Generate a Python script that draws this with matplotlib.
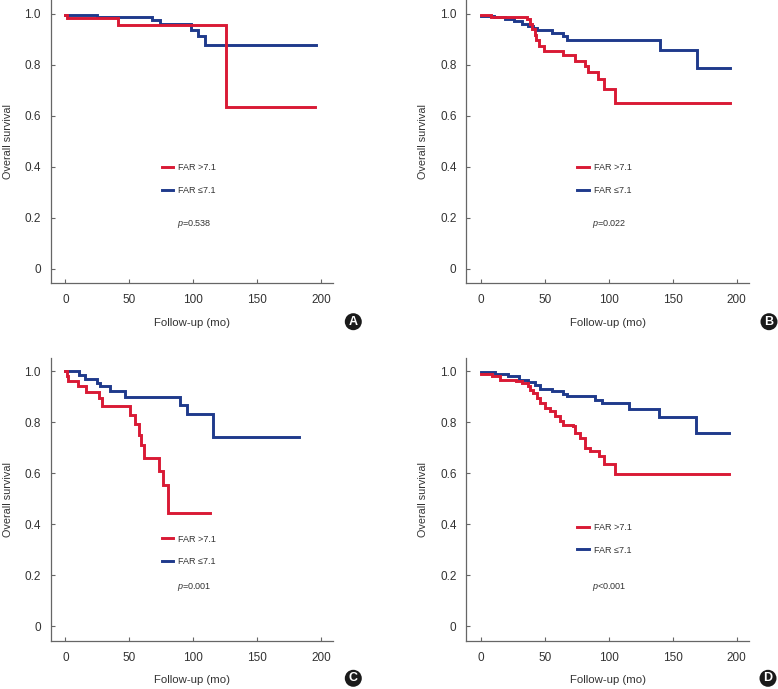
import numpy as np
import matplotlib
matplotlib.use("Agg")
import matplotlib.pyplot as plt
from matplotlib.lines import Line2D

plt.rcParams['font.family'] = ['Liberation Sans', 'DejaVu Sans']
plt.rcParams['mathtext.fontset'] = 'custom'
plt.rcParams['mathtext.it'] = 'Liberation Sans:italic'
plt.rcParams['mathtext.rm'] = 'Liberation Sans'

# Panel A
a_hi_t = [0, 1, 41, 126, 195]
a_hi_s = [0.993, 0.983, 0.957, 0.634, 0.634]
a_lo_t = [0, 25, 68, 74, 98, 104, 109, 196]
a_lo_s = [0.994, 0.987, 0.974, 0.961, 0.937, 0.914, 0.877, 0.877]

# Panel B
b_hi_t = [0, 8, 36, 38, 40, 42, 43, 45, 49, 64.5, 73.5, 81, 84, 91.5, 96, 105, 195]
b_hi_s = [0.993, 0.986, 0.977, 0.96, 0.94, 0.915, 0.898, 0.872, 0.855, 0.836,
          0.814, 0.794, 0.771, 0.742, 0.703, 0.651, 0.651]
b_lo_t = [0, 10, 19, 25.5, 32, 37, 41, 44, 55.5, 64.5, 67, 140, 169, 195]
b_lo_s = [0.989, 0.985, 0.979, 0.970, 0.961, 0.953, 0.944, 0.935, 0.925, 0.911,
          0.898, 0.857, 0.785, 0.785]

# Panel C
c_hi_t = [0, 1, 2, 10, 16, 26, 29, 50.5, 54.5, 57.5, 59.5, 61.5, 73, 76, 80.5, 113.5]
c_hi_s = [1.0, 0.98, 0.961, 0.941, 0.919, 0.896, 0.863, 0.830, 0.794, 0.752,
          0.713, 0.661, 0.608, 0.556, 0.445, 0.445]
c_lo_t = [0, 10.7, 15, 25, 27, 34.7, 46.5, 89.5, 95.2, 115.5, 183]
c_lo_s = [1.0, 0.987, 0.971, 0.954, 0.941, 0.924, 0.90, 0.869, 0.833, 0.741, 0.741]

# Panel D
d_hi_t = [0, 8.6, 15, 27, 32, 37, 38.5, 41, 43.7, 46.3, 50, 54, 58, 62, 64.5,
          72.3, 73.7, 77.6, 81.5, 85.4, 92, 96, 105, 194]
d_hi_s = [0.991, 0.980, 0.967, 0.961, 0.955, 0.944, 0.928, 0.915, 0.896, 0.876,
          0.857, 0.844, 0.824, 0.804, 0.791, 0.785, 0.759, 0.739, 0.700, 0.687,
          0.667, 0.636, 0.598, 0.598]
d_lo_t = [0, 11, 21.5, 29.5, 37, 42.5, 46.5, 55.5, 64.5, 67, 89.5, 94.5, 115.5,
          139, 168, 194]
d_lo_s = [0.996, 0.990, 0.980, 0.967, 0.957, 0.948, 0.931, 0.922, 0.909, 0.902,
          0.889, 0.876, 0.853, 0.821, 0.759, 0.759]

p_labels = ['$p$=0.538', '$p$=0.022', '$p$=0.001', '$p$<0.001']
letters = ['A', 'B', 'C', 'D']
series_labels = ['FAR >7.1', 'FAR \u22647.1']
x_ticks = [0, 50, 100, 150, 200]
y_ticks = [0, 0.2, 0.4, 0.6, 0.8, 1.0]
y_ticklabels = ['0', '0.2', '0.4', '0.6', '0.8', '1.0']

red = '#d91a35'
blue = '#1f3a8c'
axis_col = '#666666'

W, H = 778, 689
fig = plt.figure(figsize=(W / 100, H / 100), dpi=100)

# axes in pixels: left, bottom (pixel from top)
ax_w, ax_h = 282.5, 283
panels = [
    (a_hi_t, a_hi_s, a_lo_t, a_lo_s, 50.7, 283.3, 0.424, 0.209, (353.3, 321.7)),
    (b_hi_t, b_hi_s, b_lo_t, b_lo_s, 466.3, 283.3, 0.424, 0.210, (769, 321.7)),
    (c_hi_t, c_hi_s, c_lo_t, c_lo_s, 50.7, 641.0, 0.376, 0.190, (353.3, 678.3)),
    (d_hi_t, d_hi_s, d_lo_t, d_lo_s, 466.3, 641.0, 0.417, 0.190, (768, 678.3)),
]

for i, (ht, hs, lt, ls, left, bot, leg_y, p_y, lpos) in enumerate(panels):
    ax = fig.add_axes([left / W, 1 - bot / H, ax_w / W, ax_h / H])
    ax.step(lt, ls, where='post', color=blue, lw=2.1, solid_joinstyle='miter')
    ax.step(ht, hs, where='post', color=red, lw=2.1, solid_joinstyle='miter')
    ax.set_xlim(-11.5, 209.5)
    ax.set_ylim(-0.057, 1.052)
    ax.set_xticks(x_ticks)
    ax.set_yticks(y_ticks)
    ax.set_yticklabels(y_ticklabels)
    for s in ['top', 'right']:
        ax.spines[s].set_visible(False)
    for s in ['left', 'bottom']:
        ax.spines[s].set_color(axis_col)
        ax.spines[s].set_linewidth(0.9)
    ax.tick_params(direction='in', length=3, width=0.8, color=axis_col,
                   labelsize=8.5, labelcolor='#333333')
    ax.tick_params(axis='x', pad=8)
    ax.tick_params(axis='y', pad=7)
    ax.set_xlabel('Follow-up (mo)', fontsize=8.2, color='#333333', labelpad=8)
    ax.set_ylabel('Overall survival', fontsize=7.8, color='#333333', labelpad=8.5)

    handles = [Line2D([], [], color=red, lw=2.1), Line2D([], [], color=blue, lw=2.1)]
    ax.legend(handles, series_labels, loc='upper left', bbox_to_anchor=(0.393, leg_y),
              frameon=False, fontsize=6.5, handlelength=1.3, handletextpad=0.55,
              labelspacing=1.5, borderpad=0, borderaxespad=0, labelcolor='#333333')
    ax.text(0.446, p_y, p_labels[i], transform=ax.transAxes, fontsize=6.5,
            color='#333333', ha='left', va='center')

    fig.text(lpos[0] / W, 1 - lpos[1] / H, letters[i], fontsize=9, fontweight='bold',
             color='white', ha='center', va='center',
             bbox=dict(boxstyle='circle,pad=0.2', fc='#1a1a1a', ec='none'))

fig.savefig('out.png', dpi=100)
